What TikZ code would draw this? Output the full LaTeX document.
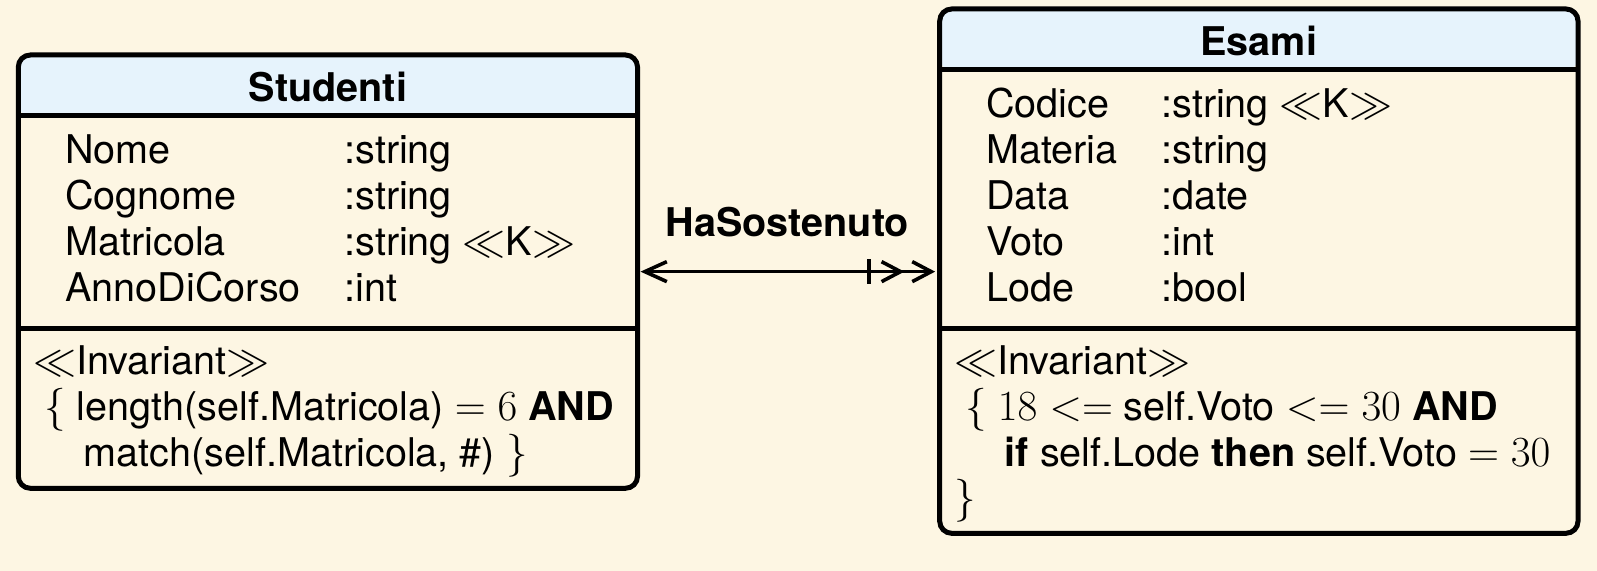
\RequirePackage{fix-cm}
\documentclass[tikz,border=0pt]{standalone}
\usepackage{fontspec}
\setmainfont{TeX Gyre Heros}[Scale=0.92]
\usetikzlibrary{arrows.meta, positioning, calc}

\definecolor{bgcream}{RGB}{253,246,227}
\definecolor{headblue}{RGB}{230,243,252}

\newcommand{\umlsize}{\fontsize{21.5}{25}\selectfont}

\tikzset{
  classbox/.style={draw, line width=2.5pt, rounded corners=6pt, outer sep=0pt, inner sep=0pt,
    path picture={\fill[headblue] (path picture bounding box.north west) rectangle ([yshift=-30.5pt]path picture bounding box.north east);}},
  rule/.style={line width=2.5pt},
  txt/.style={font=\umlsize, inner sep=0pt, anchor=base west, text height=15pt, text depth=4pt},
  title/.style={font=\umlsize\bfseries, inner sep=0pt},
  assoc/.style={line width=1.8pt, shorten <=1.5pt, shorten >=2.3pt,
    {Straight Barb[length=11pt,width=10pt]}-{Bar[width=12.5pt,sep=4.5pt] Straight Barb[length=9.5pt,width=10pt,sep=3pt] Straight Barb[length=9.5pt,width=10pt]}}
}

\begin{document}
\begin{tikzpicture}[x=0.5pt, y=-0.5pt]
  \fill[bgcream] (0,0) rectangle (1597,571);
  \useasboundingbox (0,0) rectangle (1597,571);

  % the two classes
  \node[classbox, minimum width=309.6pt, minimum height=216.65pt] (studenti) at (327.9,271.65) {};
  \node[classbox, minimum width=319.15pt, minimum height=262.15pt] (esami) at (1258.85,271.15) {};

  \draw[rule] ([yshift=-30.5pt]studenti.north west) -- ([yshift=-30.5pt]studenti.north east);
  \draw[rule] (studenti.west |- 0,329) -- (studenti.east |- 0,329);
  \draw[rule] ([yshift=-30.5pt]esami.north west) -- ([yshift=-30.5pt]esami.north east);
  \draw[rule] (esami.west |- 0,329) -- (esami.east |- 0,329);

  \node[title] (stud-title) at (327.9,87) {Studenti};
  \node[title] (esami-title) at (1258.85,41) {Esami};

  % attributes
  \node[txt] (stud-nome) at (65,163.5) {Nome};
  \node[txt] (stud-cognome) at (65,209.4) {Cognome};
  \node[txt] (stud-matricola) at (65,255.2) {Matricola};
  \node[txt] (stud-anno) at (65,301.1) {AnnoDiCorso};
  \node[txt] (stud-t1) at (344,163.5) {:string};
  \node[txt] (stud-t2) at (344,209.4) {:string};
  \node[txt] (stud-t3) at (344,255.2) {:string $\ll$K$\gg$};
  \node[txt] (stud-t4) at (344,301.1) {:int};

  \node[txt] (esami-codice) at (986,118) {Codice};
  \node[txt] (esami-materia) at (986,163.8) {Materia};
  \node[txt] (esami-data) at (986,209.6) {Data};
  \node[txt] (esami-voto) at (986,255.4) {Voto};
  \node[txt] (esami-lode) at (986,301.2) {Lode};
  \node[txt] (esami-t1) at (1161,118) {:string $\ll$K$\gg$};
  \node[txt] (esami-t2) at (1161,163.8) {:string};
  \node[txt] (esami-t3) at (1161,209.6) {:date};
  \node[txt] (esami-t4) at (1161,255.4) {:int};
  \node[txt] (esami-t5) at (1161,301.2) {:bool};

  % invariants
  \node[txt] (stud-inv1) at (33,374.6) {$\ll$Invariant$\gg$};
  \node[txt] (stud-inv2) at (33,420.4) {\ $\{$ length(self.Matricola) $= 6$ \textbf{AND}};
  \node[txt] (stud-inv3) at (33,466.2) {\quad\ match(self.Matricola, \#) $\}$};

  \node[txt] (esami-inv1) at (954,374.6) {$\ll$Invariant$\gg$};
  \node[txt] (esami-inv2) at (954,420.4) {\ $\{$ $18 <=$ self.Voto $<= 30$ \textbf{AND}};
  \node[txt] (esami-inv3) at (954,466.2) {\quad\ \textbf{if} self.Lode \textbf{then} self.Voto $= 30$};
  \node[txt] (esami-inv4) at (954,512) {$\}$};

  % association
  \draw[assoc] (studenti.east) -- (studenti.east -| esami.west);
  \node[title] (hasostenuto) at (787.3,222) {HaSostenuto};
\end{tikzpicture}
\end{document}
